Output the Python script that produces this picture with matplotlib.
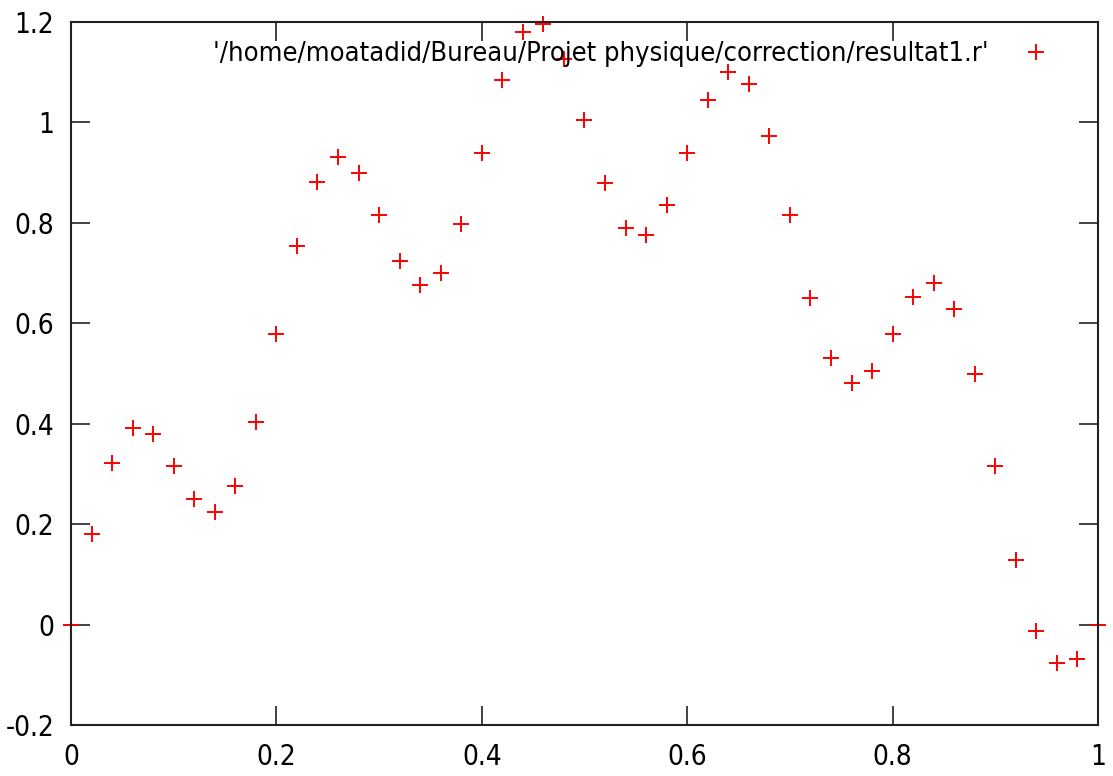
import matplotlib
matplotlib.use("Agg")
import matplotlib.pyplot as plt
from matplotlib import font_manager as fm

# Data
x = [0.00, 0.02, 0.04, 0.06, 0.08, 0.10, 0.12, 0.14, 0.16, 0.18,
     0.20, 0.22, 0.24, 0.26, 0.28, 0.30, 0.32, 0.34, 0.36, 0.38,
     0.40, 0.42, 0.44, 0.46, 0.48, 0.50, 0.52, 0.54, 0.56, 0.58,
     0.60, 0.62, 0.64, 0.66, 0.68, 0.70, 0.72, 0.74, 0.76, 0.78,
     0.80, 0.82, 0.84, 0.86, 0.88, 0.90, 0.92, 0.94, 0.96, 0.98, 1.00]
y = [0.000, 0.180, 0.322, 0.392, 0.380, 0.316, 0.250, 0.224, 0.276, 0.403,
     0.579, 0.754, 0.882, 0.931, 0.900, 0.816, 0.724, 0.677, 0.700, 0.798,
     0.940, 1.085, 1.180, 1.196, 1.127, 1.005, 0.880, 0.790, 0.776, 0.836,
     0.940, 1.045, 1.100, 1.077, 0.973, 0.816, 0.650, 0.531, 0.481, 0.505,
     0.579, 0.652, 0.680, 0.628, 0.499, 0.316, 0.129, -0.013, -0.077, -0.069, 0.000]
label = "'/home/moatadid/Bureau/Projet physique/correction/resultat1.r'"
xticks = [0, 0.2, 0.4, 0.6, 0.8, 1]
yticks = [-0.2, 0, 0.2, 0.4, 0.6, 0.8, 1, 1.2]

# gnuplot-like narrow font
font = fm.FontProperties(family='DejaVu Sans', stretch='condensed', size=20)
legend_font = fm.FontProperties(family='DejaVu Sans', stretch='condensed', size=19.5)

fig = plt.figure(figsize=(11.13, 7.76), dpi=100)
ax = fig.add_axes([0.0638, 0.0657, 0.9227, 0.9059])

ax.plot(x, y, linestyle='none', marker='+', color='red',
        markersize=11, markeredgewidth=1.4, clip_on=False, label=label)

ax.set_xlim(0, 1)
ax.set_ylim(-0.2, 1.2)
ax.set_xticks(xticks)
ax.set_yticks(yticks)
ax.set_xticklabels([f'{t:g}' for t in xticks], fontproperties=font)
ax.set_yticklabels([f'{t:g}' for t in yticks], fontproperties=font)
ax.tick_params(direction='in', length=14, width=1.3,
               top=True, right=True, color='#333333')
ax.tick_params(axis='x', pad=13)
ax.tick_params(axis='y', pad=12)
for s in ax.spines.values():
    s.set_linewidth(1.5)
    s.set_color('#222222')

ax.legend(loc='upper right', bbox_to_anchor=(0.978, 1.0), frameon=False,
          markerfirst=False, prop=legend_font, handlelength=1.5, handletextpad=1.0,
          borderaxespad=0.3)

fig.savefig('out.png', dpi=100)
